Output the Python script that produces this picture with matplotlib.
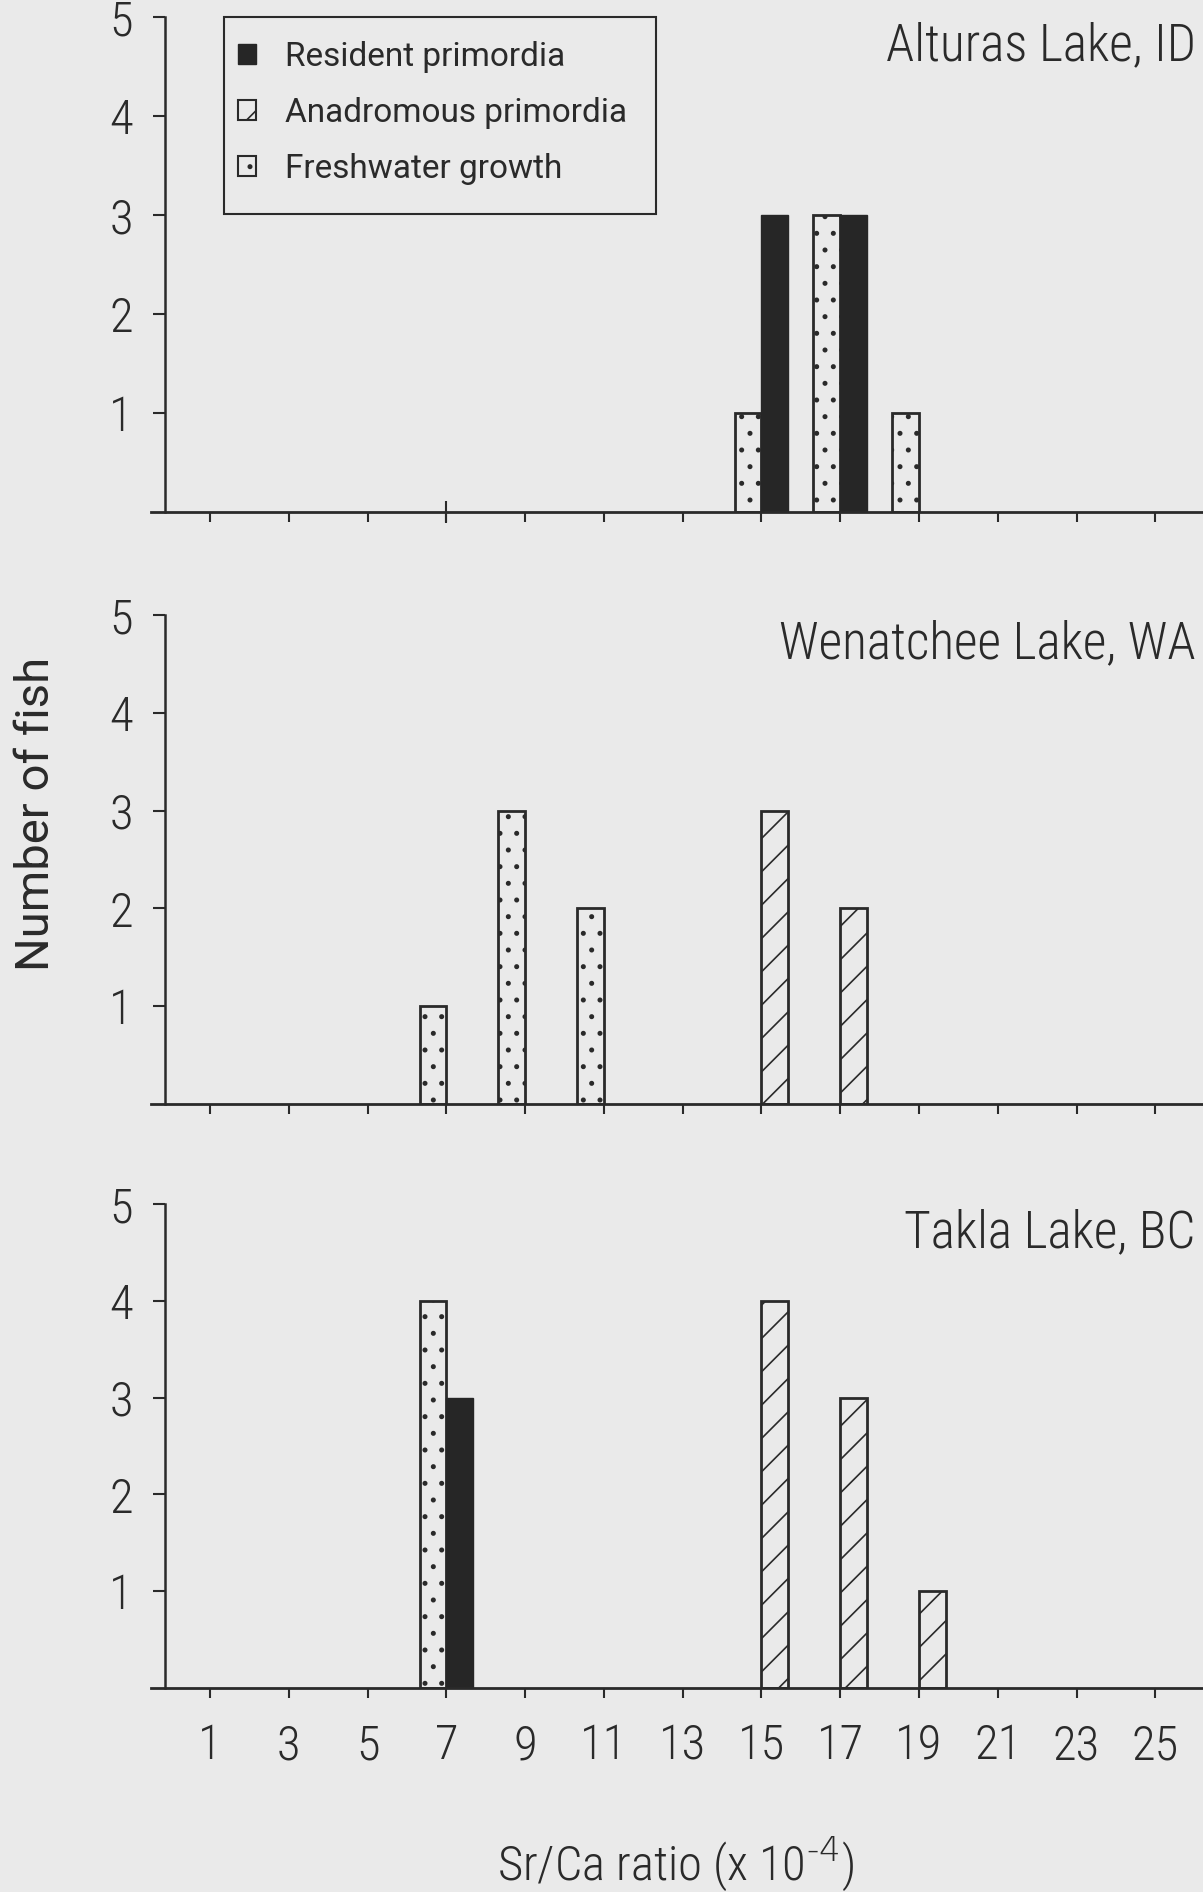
import matplotlib
matplotlib.use("Agg")
import matplotlib.pyplot as plt
from matplotlib import font_manager
from matplotlib.patches import Patch, Rectangle

# Sr/Ca ratio bins (x 1e-4) and number of fish per bin
alturas_fresh_x = [15, 17, 19]
alturas_fresh_n = [1, 3, 1]
alturas_res_x = [15, 17]
alturas_res_n = [3, 3]

wenatchee_fresh_x = [7, 9, 11]
wenatchee_fresh_n = [1, 3, 2]
wenatchee_anad_x = [15, 17]
wenatchee_anad_n = [3, 2]

takla_fresh_x = [7]
takla_fresh_n = [4]
takla_res_x = [7]
takla_res_n = [3]
takla_anad_x = [15, 17, 19]
takla_anad_n = [4, 3, 1]

lake_names = ["Alturas Lake, ID", "Wenatchee Lake, WA", "Takla Lake, BC"]
x_ticks = list(range(1, 26, 2))
y_ticks = [1, 2, 3, 4, 5]
legend_labels = ["Resident primordia", "Anadromous primordia", "Freshwater growth"]

installed = {f.name for f in font_manager.fontManager.ttflist}
narrow = "Liberation Sans"
for name in ["Liberation Sans Narrow", "Roboto Condensed", "Open Sans Condensed"]:
    if name in installed:
        narrow = name
        break
plain = "Roboto" if "Roboto" in installed else "Liberation Sans"

BG = "#eaeaea"
INK = "#2a2a2a"
DARK = "#262626"
W = 0.68

plt.rcParams["hatch.linewidth"] = 1.2
plt.rcParams["hatch.color"] = INK
plt.rcParams["font.family"] = [narrow, "DejaVu Sans"]
plt.rcParams["font.weight"] = "light"

fig = plt.figure(figsize=(12.03, 18.92), dpi=100, facecolor=BG)

# axes boxes in figure fraction: left, bottom, width, height
boxes = [
    (0.1255, 0.7294, 0.8745, 0.2616),
    (0.1255, 0.4165, 0.8745, 0.2585),
    (0.1255, 0.1078, 0.8745, 0.2558),
]

panels = [
    (alturas_fresh_x, alturas_fresh_n, alturas_res_x, alturas_res_n, [], []),
    (wenatchee_fresh_x, wenatchee_fresh_n, [], [], wenatchee_anad_x, wenatchee_anad_n),
    (takla_fresh_x, takla_fresh_n, takla_res_x, takla_res_n, takla_anad_x, takla_anad_n),
]

for i, (box, data, name) in enumerate(zip(boxes, panels, lake_names)):
    fx, fn, rx, rn, ax_, an = data
    ax = fig.add_axes(box)
    ax.set_facecolor("none")
    # freshwater bars sit left of the tick, primordia bars right of it
    ax.bar(fx, fn, width=-W, align="edge", facecolor=BG, edgecolor=INK,
           linewidth=2, hatch=".")
    ax.bar(rx, rn, width=W, align="edge", facecolor=DARK, edgecolor=DARK,
           linewidth=1)
    ax.bar(ax_, an, width=W, align="edge", facecolor=BG, edgecolor=INK,
           linewidth=2, hatch="/")

    ax.set_xlim(-0.5, 26.21)
    ax.set_ylim(0, 5)
    for s in ["top", "right"]:
        ax.spines[s].set_visible(False)
    ax.spines["left"].set_position(("data", -0.15))
    ax.spines["left"].set_bounds(0, 5)
    ax.spines["left"].set_linewidth(1.8)
    ax.spines["left"].set_color(INK)
    ax.spines["bottom"].set_linewidth(2.0)
    ax.spines["bottom"].set_color(INK)

    ax.set_yticks(y_ticks)
    ax.set_xticks(x_ticks)
    ax.tick_params(axis="y", direction="out", length=9, width=1.5,
                   color=INK, labelcolor=INK, labelsize=35, pad=14)
    ax.tick_params(axis="x", direction="out", length=7, width=1.5,
                   color=INK, labelcolor=INK, labelsize=35, pad=18)
    if i < 2:
        ax.set_xticklabels([])
    if i == 0:
        ax.xaxis.remove_overlapping_locs = False
        ax.set_xticks([7], minor=True)
        ax.tick_params(axis="x", which="minor", direction="inout", length=16,
                       width=1.5, color=INK)

    ax.text(0.993, 0.94, name, transform=ax.transAxes, ha="right", va="center",
            fontsize=37, color=INK)

fig.text(0.030, 0.570, "Number of fish", rotation=90, ha="center", va="center",
         fontsize=34, color=INK, family=[plain, "DejaVu Sans"], weight="normal")
fig.text(0.562, 0.015, r"Sr/Ca ratio (x 10$^{\text{-4}}$)", ha="center",
         va="center", fontsize=35, color=INK)

handles = [
    Patch(facecolor=DARK, edgecolor=DARK, linewidth=1),
    Patch(facecolor=BG, edgecolor=INK, linewidth=1.5, hatch="/"),
    Patch(facecolor=BG, edgecolor=INK, linewidth=1.5, hatch="."),
]
leg = fig.legend(handles, legend_labels, loc="upper left",
                 bbox_to_anchor=(238 / 1203, 1 - 41 / 1892), frameon=False,
                 prop={"family": [plain, "DejaVu Sans"], "size": 24,
                       "weight": "normal"},
                 handlelength=0.55, handleheight=0.55, handletextpad=0.85,
                 labelspacing=0.72, borderpad=0, borderaxespad=0)
for t in leg.get_texts():
    t.set_color(INK)
# legend frame
fig.patches.append(Rectangle((224 / 1203, 1 - 214 / 1892), 432 / 1203,
                             197 / 1892, transform=fig.transFigure,
                             fill=False, edgecolor=INK, linewidth=1.5))

fig.savefig("out.png", dpi=100, facecolor=BG)
